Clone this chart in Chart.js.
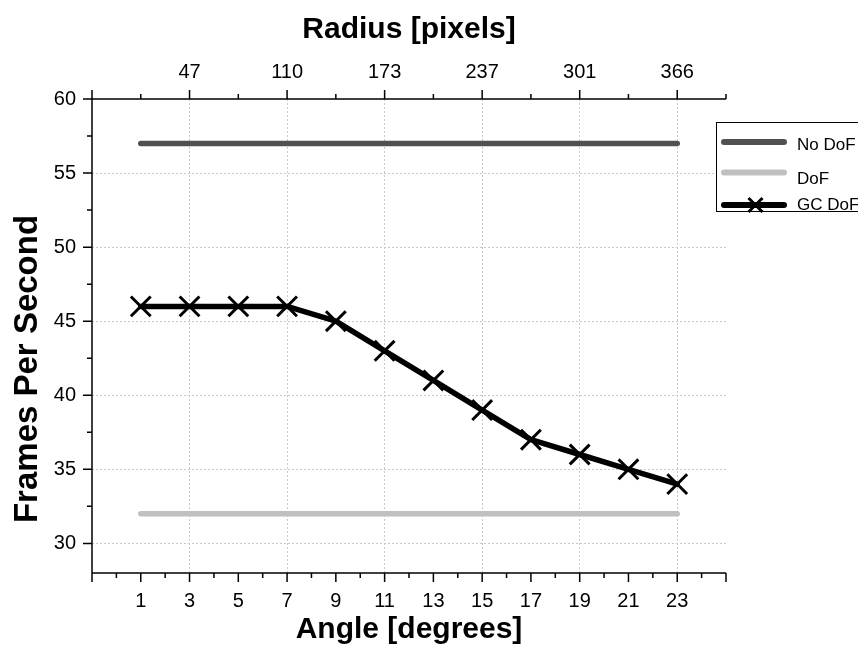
<!DOCTYPE html>
<html><head><meta charset="utf-8">
<script src="https://cdn.jsdelivr.net/npm/chart.js@4.4.1/dist/chart.umd.min.js"></script>
<style>html,body{margin:0;padding:0;background:#fff;}canvas{display:block;}</style>
</head><body>
<canvas id="c" width="858" height="646"></canvas>
<script>
// ---- data ----
const angles = [1, 3, 5, 7, 9, 11, 13, 15, 17, 19, 21, 23];
const noDofFps = [57, 57, 57, 57, 57, 57, 57, 57, 57, 57, 57, 57];
const dofFps = [32, 32, 32, 32, 32, 32, 32, 32, 32, 32, 32, 32];
const gcDofFps = [46, 46, 46, 46, 45, 43, 41, 39, 37, 36, 35, 34];
const yTicks = [30, 35, 40, 45, 50, 55, 60];
const radiusTickAngles = [3, 7, 11, 15, 19, 23];
const radiusLabels = ['47', '110', '173', '237', '301', '366'];
const seriesNames = ['No DoF', 'DoF', 'GC DoF'];
const xMin = -1, xMax = 25, yMin = 28, yMax = 60;

const FONT = '"Liberation Sans", Arial, Helvetica, sans-serif';
Chart.defaults.font.family = FONT;
Chart.defaults.color = '#000';

const colors = ['#505050', '#c0c0c0', '#000000'];

function pts(vals) { return angles.map((a, i) => ({ x: a, y: vals[i] })); }

const originAxes = {
  id: 'originAxes',
  afterDraw(chart) {
    const ctx = chart.ctx, a = chart.chartArea, xs = chart.scales.x, ys = chart.scales.y;
    ctx.save();
    ctx.strokeStyle = '#000';
    ctx.lineWidth = 1.5;
    ctx.beginPath();
    ctx.moveTo(a.left, a.top); ctx.lineTo(a.left, a.bottom);
    ctx.moveTo(a.left, a.bottom); ctx.lineTo(a.right, a.bottom);
    ctx.moveTo(a.left, a.top); ctx.lineTo(a.right, a.top);
    // bottom ticks: major every 2, minor every 1
    for (let v = xMin; v <= xMax; v++) {
      const px = xs.getPixelForValue(v);
      const len = ((v - xMin) % 2 === 0) ? 9 : 5;
      ctx.moveTo(px, a.bottom); ctx.lineTo(px, a.bottom + len);
    }
    // top ticks: major every 4, minor every 2
    for (let v = xMin; v <= xMax; v += 2) {
      const px = xs.getPixelForValue(v);
      const len = ((v - xMin) % 4 === 0) ? 9 : 5;
      ctx.moveTo(px, a.top); ctx.lineTo(px, a.top - len);
    }
    // left ticks: major every 5, minor every 2.5
    for (let v = yTicks[0]; v <= yMax; v += 2.5) {
      const py = ys.getPixelForValue(v);
      const len = (v % 5 === 0) ? 9 : 5;
      ctx.moveTo(a.left, py); ctx.lineTo(a.left - len, py);
    }
    ctx.stroke();

    // y title
    ctx.save();
    ctx.fillStyle = '#000';
    ctx.font = 'bold 33px ' + FONT;
    ctx.textAlign = 'center';
    ctx.textBaseline = 'alphabetic';
    ctx.translate(37, (a.top + a.bottom) / 2 + 33);
    ctx.rotate(-Math.PI / 2);
    ctx.fillText('Frames Per Second', 0, 0);
    ctx.restore();

    // legend
    const bx = 716, by = 122, bh = 89;
    ctx.fillStyle = '#fff';
    ctx.fillRect(bx, by, 200, bh);
    ctx.lineWidth = 1;
    ctx.strokeStyle = '#000';
    ctx.strokeRect(bx + 0.5, by + 0.5, 200, bh);
    const rows = [142, 172.5, 205];
    const textY = [149.5, 184, 210];
    ctx.font = '17px ' + FONT;
    ctx.textAlign = 'left';
    ctx.textBaseline = 'alphabetic';
    seriesNames.forEach((name, i) => {
      ctx.strokeStyle = colors[i];
      ctx.lineWidth = 6;
      ctx.lineCap = 'round';
      ctx.beginPath();
      ctx.moveTo(724, rows[i]); ctx.lineTo(784, rows[i]);
      ctx.stroke();
      if (i === 2) {
        ctx.lineWidth = 3; ctx.lineCap = 'butt';
        const cx = 755.5, cy = rows[i], r = 7;
        ctx.beginPath();
        ctx.moveTo(cx - r, cy - r); ctx.lineTo(cx + r, cy + r);
        ctx.moveTo(cx + r, cy - r); ctx.lineTo(cx - r, cy + r);
        ctx.stroke();
      }
      ctx.fillStyle = '#000';
      ctx.fillText(name, 797, textY[i]);
    });
    ctx.restore();
  }
};

new Chart(document.getElementById('c').getContext('2d'), {
  type: 'line',
  data: {
    datasets: [
      { label: seriesNames[0], data: pts(noDofFps), borderColor: colors[0], borderWidth: 5.5, pointRadius: 0, borderCapStyle: 'round', xAxisID: 'x', yAxisID: 'y' },
      { label: seriesNames[1], data: pts(dofFps), borderColor: colors[1], borderWidth: 5.5, pointRadius: 0, borderCapStyle: 'round', xAxisID: 'x', yAxisID: 'y' },
      { label: seriesNames[2], data: pts(gcDofFps), borderColor: colors[2], borderWidth: 5.5, borderCapStyle: 'round', borderJoinStyle: 'round',
        pointStyle: 'crossRot', pointRadius: 14, pointBorderWidth: 3, pointBorderColor: '#000', pointBackgroundColor: '#000', xAxisID: 'x', yAxisID: 'y' }
    ]
  },
  options: {
    responsive: false,
    animation: false,
    devicePixelRatio: 1,
    layout: { padding: { left: 0, top: 0, bottom: 0, right: 132 } },
    plugins: { legend: { display: false }, tooltip: { enabled: false } },
    scales: {
      x: {
        type: 'linear', position: 'bottom', min: xMin, max: xMax,
        afterBuildTicks: s => { s.ticks = angles.map(v => ({ value: v })); },
        afterFit: s => { s.height = 73; },
        grid: { display: false },
        border: { display: false },
        ticks: { font: { size: 20 }, color: '#000', padding: 8, maxRotation: 0, autoSkip: false },
        title: { display: true, text: 'Angle [degrees]', color: '#000', font: { size: 30, weight: 'bold' }, padding: { top: 0, bottom: -2 } }
      },
      x2: {
        type: 'linear', position: 'top', min: xMin, max: xMax,
        afterBuildTicks: s => { s.ticks = radiusTickAngles.map(v => ({ value: v })); },
        afterFit: s => { s.height = 99; },
        grid: { display: true, drawTicks: false, color: '#c8c8c8', lineWidth: 1 },
        border: { display: false, dash: [2, 2] },
        ticks: { font: { size: 20 }, color: '#000', padding: 15, maxRotation: 0, autoSkip: false,
          callback: v => { const i = radiusTickAngles.indexOf(v); return i >= 0 ? radiusLabels[i] : ''; } },
        title: { display: true, text: 'Radius [pixels]', color: '#000', font: { size: 30, weight: 'bold' }, padding: { top: 12, bottom: 0 } }
      },
      y: {
        type: 'linear', position: 'left', min: yMin, max: yMax,
        afterBuildTicks: s => { s.ticks = yTicks.map(v => ({ value: v })); },
        afterFit: s => { s.width = 92; },
        grid: { drawTicks: false, lineWidth: 1, color: c => (c.tick && c.tick.value === yMax) ? 'rgba(0,0,0,0)' : '#c8c8c8' },
        border: { display: false, dash: [2, 2] },
        ticks: { font: { size: 20 }, color: '#000', padding: 16 }
      }
    }
  },
  plugins: [originAxes]
});
</script>
</body></html>
